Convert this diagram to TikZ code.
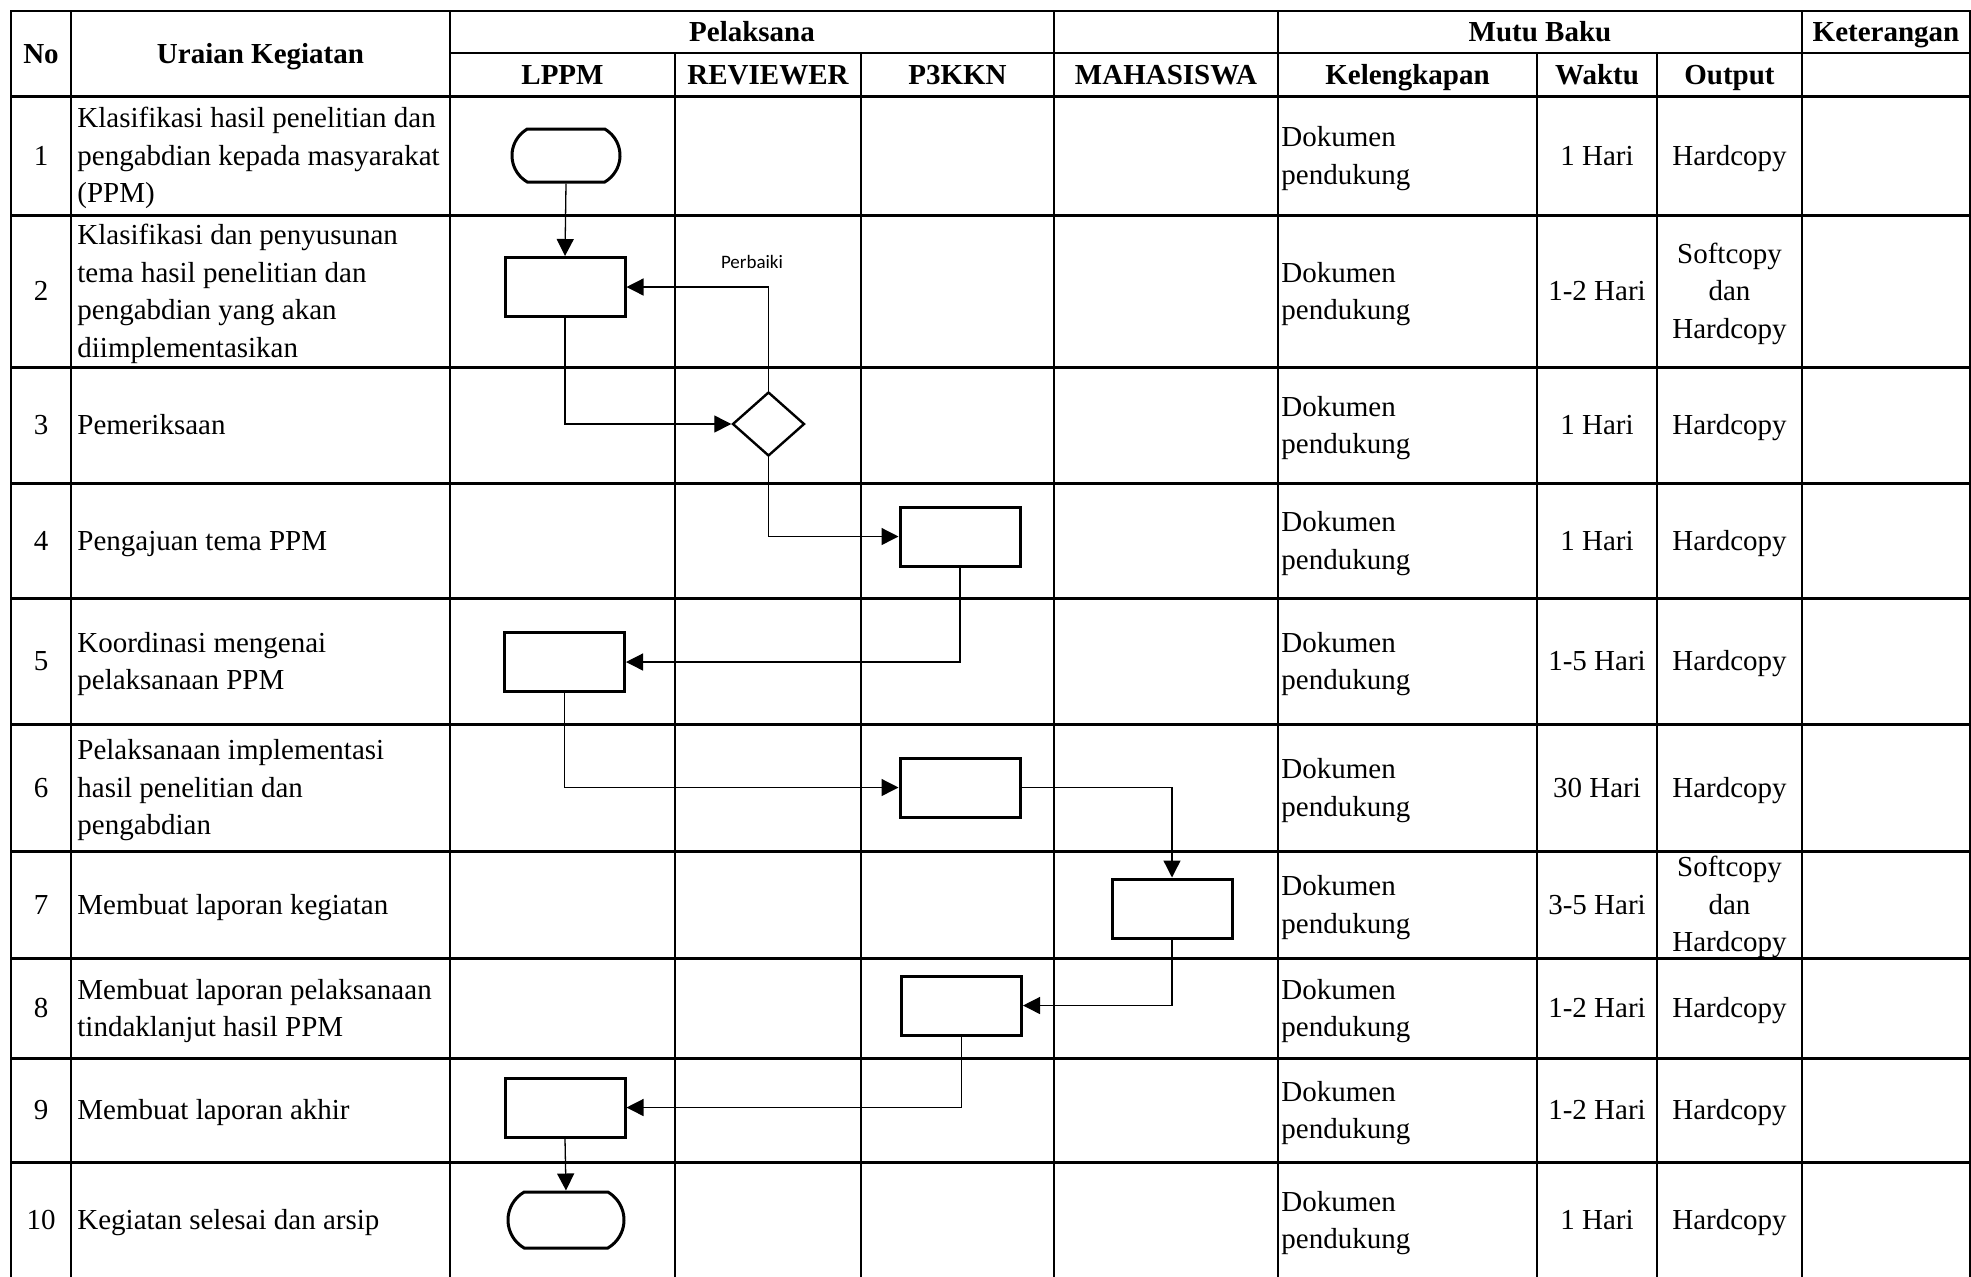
\documentclass[tikz,border=0pt]{standalone}
\usepackage{fontspec}
\setmainfont{Liberation Serif}
\newfontfamily\calibfont{Carlito}
\usetikzlibrary{arrows.meta,shapes.geometric,shapes.misc}
\newcommand{\st}{\rule[-4.45pt]{0pt}{18.75pt}}
\begin{document}
\begin{tikzpicture}[x=0.5pt,y=-0.5pt,
  hline/.style={line width=1.5pt, line cap=rect},
  vline/.style={line width=1.3pt, line cap=rect},
  txt/.style={font=\fontsize{14.5pt}{18.75pt}\selectfont, inner sep=0pt},
  hdr/.style={font=\fontsize{14.5pt}{18.75pt}\selectfont\bfseries, inner sep=0pt},
  lefttxt/.style={txt, anchor=west, align=left},
  ctrtxt/.style={txt, align=center},
  procbox/.style={draw, line width=1.5pt, minimum width=60pt, minimum height=29.5pt, inner sep=0pt},
  decision/.style={draw, diamond, line width=1.2pt, minimum width=36pt, minimum height=32pt, inner sep=0pt},
  term/.style={draw, rounded rectangle, rounded rectangle arc length=120, line width=1.5pt, inner sep=0pt},
  conn/.style={line width=0.65pt, -{Triangle[length=8.5pt,width=8.5pt]}},
  lbl/.style={font=\calibfont\fontsize{9.5pt}{11pt}\selectfont, inner sep=0pt}
]
\useasboundingbox (0,0) rectangle (1971,1276);

% ---------- table grid ----------
\draw[hline, line width=1.1pt] (11,11) -- (1970,11);
\draw[hline, line width=1.1pt] (450,53) -- (1970,53);
\foreach \y in {96,215,367,483,598,724,851,958,1058,1162}
  \draw[hline] (11,\y) -- (1970,\y);
\foreach \x in {11,71,450,1054,1278,1802}
  \draw[vline] (\x,11) -- (\x,1280);
\foreach \x in {675,861,1537,1657}
  \draw[vline] (\x,53) -- (\x,1280);
\draw[line width=0.6pt] (1970,11) -- (1970,1280);

% ---------- headers ----------
\node[hdr] (hno) at (41,53.5) {\st No};
\node[hdr] (hur) at (260.5,53.5) {\st Uraian Kegiatan};
\node[hdr] (hpel) at (752,32) {\st Pelaksana};
\node[hdr] (hmutu) at (1540,32) {\st Mutu Baku};
\node[hdr] (hket) at (1886,32) {\st Keterangan};
\node[hdr] (hlppm) at (562.5,74.5) {\st LPPM};
\node[hdr] (hrev) at (768,74.5) {\st REVIEWER};
\node[hdr] (hp3) at (957.5,74.5) {\st P3KKN};
\node[hdr] (hmhs) at (1166,74.5) {\st MAHASISWA};
\node[hdr] (hkel) at (1407.5,74.5) {\st Kelengkapan};
\node[hdr] (hwak) at (1597,74.5) {\st Waktu};
\node[hdr] (hout) at (1729.5,74.5) {\st Output};

% ---------- row numbers ----------
\node[txt] (n1) at (41,155.5) {\st 1};
\node[txt] (n2) at (41,291) {\st 2};
\node[txt] (n3) at (41,425) {\st 3};
\node[txt] (n4) at (41,540.5) {\st 4};
\node[txt] (n5) at (41,661) {\st 5};
\node[txt] (n6) at (41,787.5) {\st 6};
\node[txt] (n7) at (41,904.5) {\st 7};
\node[txt] (n8) at (41,1008) {\st 8};
\node[txt] (n9) at (41,1110) {\st 9};
\node[txt] (n10) at (41,1220) {\st 10};

% ---------- activity descriptions ----------
\node[lefttxt] (u1) at (77,155.5) {\st Klasifikasi hasil penelitian dan\\\st pengabdian kepada masyarakat\\\st (PPM)};
\node[lefttxt] (u2) at (77,291) {\st Klasifikasi dan penyusunan\\\st tema hasil penelitian dan\\\st pengabdian yang akan\\\st diimplementasikan};
\node[lefttxt] (u3) at (77,425) {\st Pemeriksaan};
\node[lefttxt] (u4) at (77,540.5) {\st Pengajuan tema PPM};
\node[lefttxt] (u5) at (77,661) {\st Koordinasi mengenai\\\st pelaksanaan PPM};
\node[lefttxt] (u6) at (77,787.5) {\st Pelaksanaan implementasi\\\st hasil penelitian dan\\\st pengabdian};
\node[lefttxt] (u7) at (77,904.5) {\st Membuat laporan kegiatan};
\node[lefttxt] (u8) at (77,1008) {\st Membuat laporan pelaksanaan\\\st tindaklanjut hasil PPM};
\node[lefttxt] (u9) at (77,1110) {\st Membuat laporan akhir};
\node[lefttxt] (u10) at (77,1220) {\st Kegiatan selesai dan arsip};

% ---------- kelengkapan ----------
\foreach \y [count=\i] in {155.5,291,425,540.5,661,787.5,904.5,1008,1110,1220}
  \node[lefttxt] (k\i) at (1281,\y) {\st Dokumen\\\st pendukung};

% ---------- waktu ----------
\node[txt] (w1) at (1597,155.5) {\st 1 Hari};
\node[txt] (w2) at (1597,291) {\st 1-2 Hari};
\node[txt] (w3) at (1597,425) {\st 1 Hari};
\node[txt] (w4) at (1597,540.5) {\st 1 Hari};
\node[txt] (w5) at (1597,661) {\st 1-5 Hari};
\node[txt] (w6) at (1597,787.5) {\st 30 Hari};
\node[txt] (w7) at (1597,904.5) {\st 3-5 Hari};
\node[txt] (w8) at (1597,1008) {\st 1-2 Hari};
\node[txt] (w9) at (1597,1110) {\st 1-2 Hari};
\node[txt] (w10) at (1597,1220) {\st 1 Hari};

% ---------- output ----------
\node[ctrtxt] (o1) at (1729.5,155.5) {\st Hardcopy};
\node[ctrtxt] (o2) at (1729.5,291) {\st Softcopy\\\st dan\\\st Hardcopy};
\node[ctrtxt] (o3) at (1729.5,425) {\st Hardcopy};
\node[ctrtxt] (o4) at (1729.5,540.5) {\st Hardcopy};
\node[ctrtxt] (o5) at (1729.5,661) {\st Hardcopy};
\node[ctrtxt] (o6) at (1729.5,787.5) {\st Hardcopy};
\node[ctrtxt] (o7) at (1729.5,904.5) {\st Softcopy\\\st dan\\\st Hardcopy};
\node[ctrtxt] (o8) at (1729.5,1008) {\st Hardcopy};
\node[ctrtxt] (o9) at (1729.5,1110) {\st Hardcopy};
\node[ctrtxt] (o10) at (1729.5,1220) {\st Hardcopy};

% ---------- flowchart ----------
\node[term, minimum width=54pt, minimum height=26.5pt] (t1) at (566,155.5) {};
\node[procbox] (b2) at (565,287) {};
\node[decision] (d3) at (768.5,424) {};
\node[procbox] (b4) at (960,536.5) {};
\node[procbox] (b5) at (564.5,662) {};
\node[procbox] (b6) at (960,787.5) {};
\node[procbox] (b7) at (1172,908.5) {};
\node[procbox] (b8) at (961.5,1005.5) {};
\node[procbox] (b9) at (565,1107.5) {};
\node[term, minimum width=58pt, minimum height=28pt] (t10) at (566,1220) {};

\draw[conn] (t1.south) -- (b2.north);
\draw[conn] (b2.south) |- (d3.west);
\draw[conn] (d3.north) |- (b2.east);
\draw[conn] (d3.south) |- (b4.west);
\draw[conn] (b4.south) |- (b5.east);
\draw[conn] (b5.south) |- (b6.west);
\draw[conn] (b6.east) -| (b7.north);
\draw[conn] (b7.south) |- (b8.east);
\draw[conn] (b8.south) |- (b9.east);
\draw[conn] (b9.south) -- (t10.north);

\node[lbl] (perbaiki) at (752,262) {Perbaiki};
\end{tikzpicture}
\end{document}
